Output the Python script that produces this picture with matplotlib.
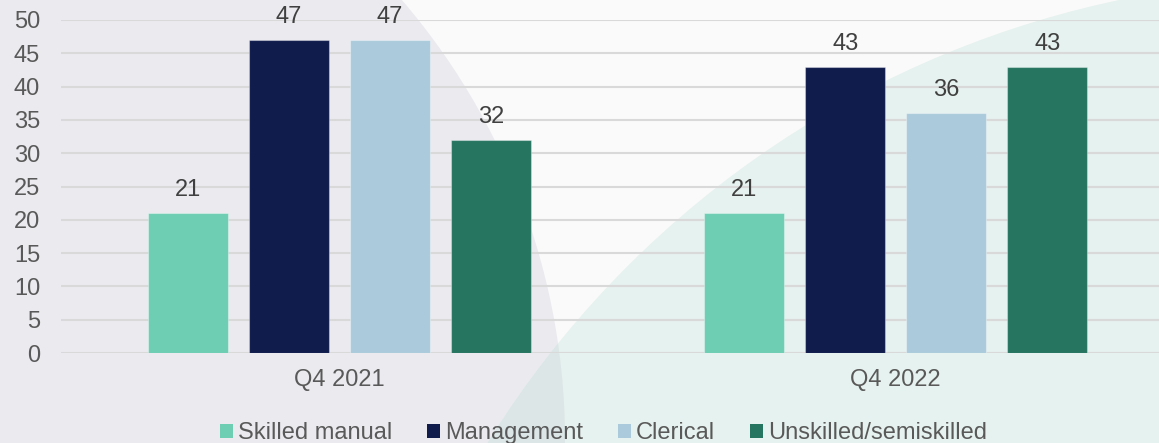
import matplotlib
matplotlib.use("Agg")
import matplotlib.pyplot as plt
import numpy as np
from matplotlib.patches import Circle, Patch

plt.rcParams["font.family"] = ["Liberation Sans", "DejaVu Sans"]

# data
periods = ["Q4 2021", "Q4 2022"]
series = ["Skilled manual", "Management", "Clerical", "Unskilled/semiskilled"]
skilled_manual = [21, 21]
management = [47, 43]
clerical = [47, 36]
unskilled = [32, 43]
yticks = [0, 5, 10, 15, 20, 25, 30, 35, 40, 45, 50]

values = [skilled_manual, management, clerical, unskilled]
colors = ["#6dceb3", "#101c4c", "#abcbdc", "#267561"]

W, H, DPI = 11.59, 4.43, 100
fig = plt.figure(figsize=(W, H), dpi=DPI, facecolor="#fafafa")

# decorative background circles (inch coordinates), kept behind the axes
tr = fig.dpi_scale_trans
lav = Circle((-1.10, 0.03), 6.75, transform=tr, facecolor="#ebebef",
             edgecolor="none", zorder=-3)
green = Circle((13.21, -5.17), 9.81, transform=tr, facecolor="#e6f2ef",
               edgecolor="none", zorder=-2)
overlap = Circle((13.21, -5.17), 9.81, transform=tr, facecolor="#dce6e6",
                 edgecolor="none", zorder=-1)
fig.patches.extend([lav, green, overlap])
overlap.set_clip_path(Circle((-1.10, 0.03), 6.75, transform=tr))

ax = fig.add_axes([61 / 1159, 90 / 443, 1113 / 1159, 333 / 443])
ax.set_facecolor("none")

x = np.arange(len(periods))
step, width = 0.1815, 0.1438
for i, (vals, name, c) in enumerate(zip(values, series, colors)):
    pos = x + (i - 1.5) * step
    bars = ax.bar(pos, vals, width, color=c, edgecolor=(1, 1, 1, 0.35),
                  linewidth=0.8, label=name, zorder=2)
    for b, v in zip(bars, vals):
        ax.annotate(str(v), (b.get_x() + b.get_width() / 2, v),
                    xytext=(0, 8.5), textcoords="offset points",
                    ha="center", va="bottom", fontsize=17, color="#404040")

ax.set_xlim(-0.5, 1.5)
ax.set_ylim(0, 50)
ax.set_yticks(yticks)
ax.set_xticks(x, periods)
ax.yaxis.grid(True, color="#d9d9d9", linewidth=1.5)
ax.set_axisbelow(True)
for s in ax.spines.values():
    s.set_visible(False)
ax.tick_params(axis="both", length=0, labelsize=17, labelcolor="#595959")
ax.tick_params(axis="x", pad=11.5)
ax.tick_params(axis="y", pad=15)

handles = [Patch(facecolor=c, edgecolor="none") for c in colors]
fig.legend(handles, series, loc="center", bbox_to_anchor=(0.5207, 0.0226),
           ncol=4, frameon=False, fontsize=17, labelcolor="#595959",
           handlelength=0.55, handleheight=0.55, handletextpad=0.21,
           columnspacing=1.48, borderpad=0, borderaxespad=0)

fig.savefig("out.png", dpi=DPI, facecolor=fig.get_facecolor())
